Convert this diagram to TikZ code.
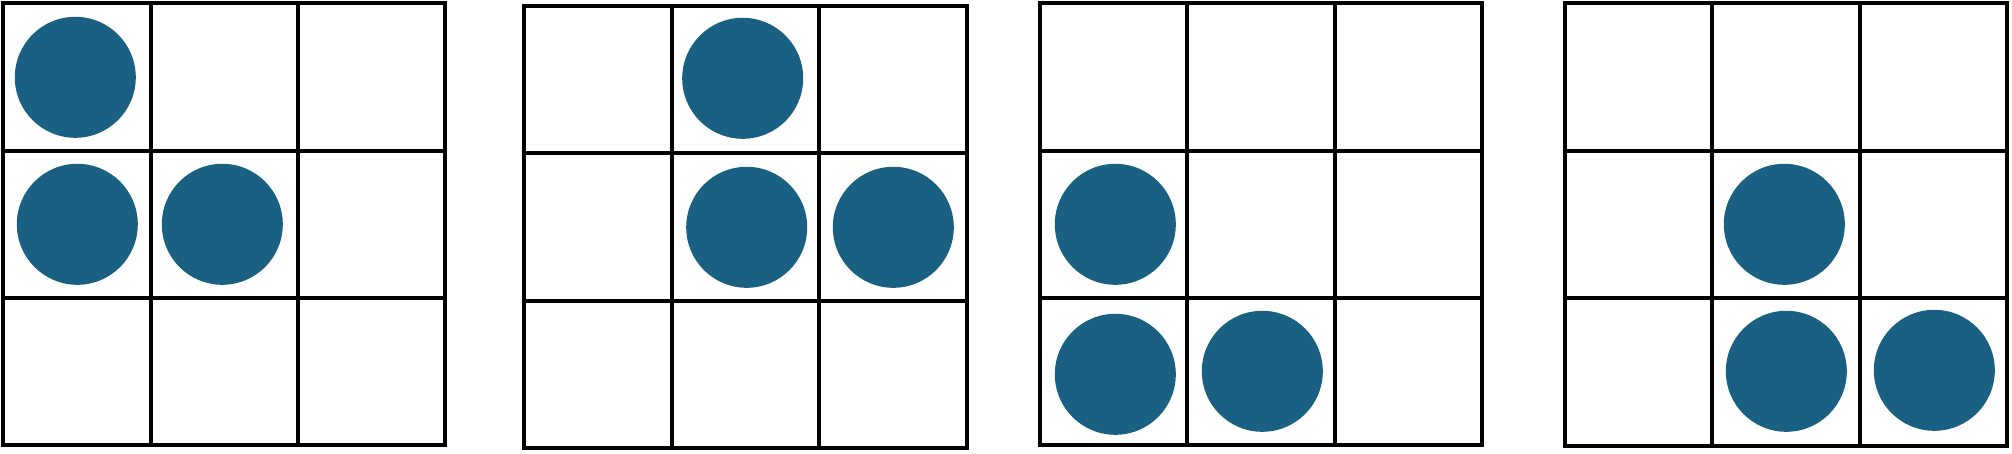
\documentclass[tikz,border=0pt]{standalone}
\definecolor{dotblue}{RGB}{25,96,130}
\tikzset{
  gridline/.style={line width=4pt, black, line cap=rect},
  dot/.style={circle, fill=dotblue, draw=none, minimum size=121pt, inner sep=0pt}
}
\begin{document}
\begin{tikzpicture}[x=1pt, y=-1pt]
\useasboundingbox (0,0) rectangle (2012,453);
% grids: origin x, origin y, cell size
\foreach \ox/\oy/\c in {3.3/3.3/147.3, 524.3/5.7/147.4, 1040/3.3/147.3, 1565/3.3/147.4}{
  \draw[gridline] (\ox,\oy) rectangle ({\ox+3*\c},{\oy+3*\c});
  \foreach \i in {1,2}{
    \draw[gridline] ({\ox+\i*\c},\oy) -- ({\ox+\i*\c},{\oy+3*\c});
    \draw[gridline] (\ox,{\oy+\i*\c}) -- ({\ox+3*\c},{\oy+\i*\c});
  }
}
% grid 1
\node[dot] (a1) at (75.3,77.3) {};
\node[dot] (a2) at (77.3,224.3) {};
\node[dot] (a3) at (222.3,224.3) {};
% grid 2
\node[dot] (b1) at (742.7,78.3) {};
\node[dot] (b2) at (746.7,227.3) {};
\node[dot] (b3) at (893.3,227.3) {};
% grid 3
\node[dot] (c1) at (1115.3,224.3) {};
\node[dot] (c2) at (1115.3,374.3) {};
\node[dot] (c3) at (1262.3,371.3) {};
% grid 4
\node[dot] (d1) at (1784.3,224.3) {};
\node[dot] (d2) at (1786.3,371.3) {};
\node[dot] (d3) at (1934.3,370.3) {};
\end{tikzpicture}
\end{document}
